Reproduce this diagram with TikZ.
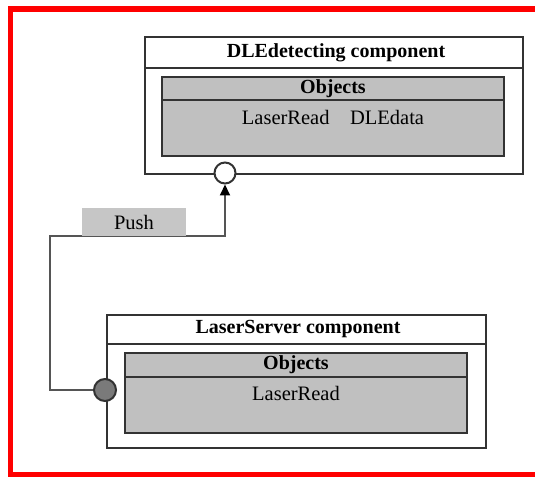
\documentclass[tikz,border=0pt]{standalone}
\usepackage{fontspec}
\setmainfont{Liberation Serif}
\usetikzlibrary{arrows.meta}
\definecolor{boxline}{HTML}{333333}
\definecolor{objgray}{HTML}{C0C0C0}
\definecolor{pushgray}{HTML}{C6C6C6}
\definecolor{ballgray}{HTML}{7A7A7A}
\definecolor{conn}{HTML}{555555}
\definecolor{framered}{HTML}{FF0000}
\tikzset{
  outerbox/.style={draw=boxline, line width=2.4pt, fill=white, inner sep=0pt},
  innerbox/.style={draw=boxline, line width=2.4pt, fill=objgray, inner sep=0pt},
  titletext/.style={font=\fontsize{20}{22}\selectfont\bfseries, inner sep=0pt},
  bodytext/.style={font=\fontsize{20.5}{22}\selectfont, inner sep=0pt},
  connector/.style={draw=conn, line width=2pt},
  sockethole/.style={circle, draw=boxline, line width=2pt, fill=white, minimum size=21pt, inner sep=0pt},
  ballport/.style={circle, draw=boxline, line width=2pt, fill=ballgray, minimum size=22pt, inner sep=0pt},
  pushlabel/.style={fill=pushgray, minimum width=104pt, minimum height=28pt, inner sep=0pt, font=\fontsize{20.5}{22}\selectfont}
}
\begin{document}
\begin{tikzpicture}[x=1pt,y=-1pt]
\useasboundingbox (0,0) rectangle (535,478);
% red frame
\draw[framered, line width=5.5pt] (535,9) -- (10.5,9) -- (10.5,474.5) -- (535,474.5);

% ---- DLEdetecting component ----
\node[outerbox, minimum width=378pt, minimum height=137pt] (dle) at (334,105.5) {};
\coordinate (dlesepL) at (145,68);
\coordinate (dlesepR) at (523,68);
\draw[boxline, line width=2.4pt] (dlesepL) -- (dlesepR);
\node[titletext] (dletitle) at (336,52.5) {DLEdetecting component};
\node[innerbox, minimum width=342pt, minimum height=79pt] (dleobj) at (333,116.5) {};
\coordinate (dleobjL) at (162,100);
\coordinate (dleobjR) at (504,100);
\draw[boxline, line width=2.4pt] (dleobjL) -- (dleobjR);
\node[titletext] (dleobjtitle) at (333,88.5) {Objects};
\node[bodytext] (dleobjtext) at (333,117) {LaserRead\hspace{1em}DLEdata};
\node[sockethole] (socket) at (225,173) {};

% ---- LaserServer component ----
\node[outerbox, minimum width=379pt, minimum height=133pt] (ls) at (296.5,381.5) {};
\coordinate (lssepL) at (107,344);
\coordinate (lssepR) at (486,344);
\draw[boxline, line width=2.4pt] (lssepL) -- (lssepR);
\node[titletext] (lstitle) at (298,329.5) {LaserServer component};
\node[innerbox, minimum width=342pt, minimum height=80pt] (lsobj) at (296,393) {};
\coordinate (lsobjL) at (125,377);
\coordinate (lsobjR) at (467,377);
\draw[boxline, line width=2.4pt] (lsobjL) -- (lsobjR);
\node[titletext] (lsobjtitle) at (296,365) {Objects};
\node[bodytext] (lsobjtext) at (296,393) {LaserRead};
\node[ballport] (ball) at (105,390) {};

% ---- connector ----
\coordinate (c1) at (50,390);
\coordinate (c2) at (50,236);
\coordinate (c3) at (225,236);
\draw[connector, -{Triangle[length=11pt,width=10pt,color=black]}] (ball.west) -- (c1) -- (c2) -- (c3) -- (socket.south);
\node[pushlabel] (push) at (134,222) {Push};
\end{tikzpicture}
\end{document}
